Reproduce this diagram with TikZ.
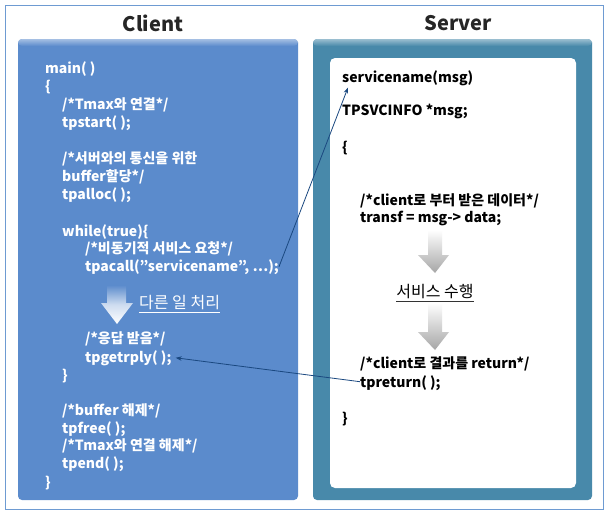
\documentclass[tikz,border=0pt]{standalone}
\usepackage{fontspec}
\setmainfont{Noto Sans CJK KR}
\usepackage{tikz}
\usetikzlibrary{arrows.meta}
\definecolor{clientblue}{RGB}{91,139,204}
\definecolor{serverteal}{RGB}{72,137,170}
\definecolor{frameblue}{RGB}{110,155,210}
\definecolor{linknavy}{RGB}{26,72,128}
\tikzset{
  ctext/.style={text=white, font=\bfseries\fontsize{14}{16}\selectfont, anchor=base west, inner sep=0pt},
  stext/.style={ctext, text=black},
  title/.style={font=\bfseries\fontsize{20}{22}\selectfont, text=black!85},
  steplabel/.style={inner sep=0pt, font=\fontsize{16}{18}\selectfont},
  link/.style={linknavy, line width=0.8pt, -{Stealth[length=6pt,width=4.5pt]}}
}
\begin{document}
\begin{tikzpicture}[x=1pt,y=-1pt]
  \useasboundingbox (0,0) rectangle (610,517);
  \fill[white] (0,0) rectangle (610,517);
  % frame and boxes
  \draw[frameblue, line width=1pt] (5,5) rectangle (603,509);
  \fill[clientblue, rounded corners=4pt] (18,39) rectangle (298,500);
  \shade[top color=clientblue!55!white, bottom color=clientblue, rounded corners=4pt] (18,39) rectangle (298,46);
  \fill[serverteal, rounded corners=4pt] (313,39) rectangle (592,500);
  \shade[top color=serverteal!55!white, bottom color=serverteal, rounded corners=4pt] (313,39) rectangle (592,46);
  \fill[white, rounded corners=5pt] (330,58) rectangle (576,488);

  \node[title] (client) at (153,23) {Client};
  \node[title] (server) at (458,23) {Server};

  % client code
  \node[ctext] (main) at (45,73) {main( )};
  \node[ctext] (mainopen) at (45,91) {\{};
  \node[ctext] (c1) at (62,109) {/*Tmax와 연결*/};
  \node[ctext] (tpstart) at (62,127) {tpstart( );};
  \node[ctext] (c2) at (62,163) {/*서버와의 통신을 위한};
  \node[ctext] (c3) at (62,181) {buffer할당*/};
  \node[ctext] (tpalloc) at (62,199) {tpalloc( );};
  \node[ctext] (while) at (62,236) {while(true)\{};
  \node[ctext] (c4) at (85,253) {/*비동기적 서비스 요청*/};
  \node[ctext] (tpacall) at (85,271) {tpacall(”servicename”, …);};
  \node[ctext] (c5) at (85,343) {/*응답 받음*/};
  \node[ctext] (tpgetrply) at (85,362) {tpgetrply( );};
  \node[ctext] (whileclose) at (62,380) {\}};
  \node[ctext] (c6) at (62,415) {/*buffer 해제*/};
  \node[ctext] (tpfree) at (62,433) {tpfree( );};
  \node[ctext] (c7) at (62,450) {/*Tmax와 연결 해제*/};
  \node[ctext] (tpend) at (62,468) {tpend( );};
  \node[ctext] (mainclose) at (45,487) {\}};

  % other work arrow
  \shade[top color=clientblue, bottom color=white, middle color=white!70!clientblue]
    (107,285) -- (126,285) -- (126,303) -- (133,303) -- (117,324) -- (101,303) -- (107,303) -- cycle;
  \node[steplabel, text=white, anchor=base west] (other) at (139,308) {다른 일 처리};
  \draw[white, line width=0.8pt] ([yshift=-4pt]other.base west) -- ([yshift=-4pt]other.base east);

  % server code
  \node[stext] (svcname) at (342,82) {servicename(msg)};
  \node[stext] (svcinfo) at (342,115) {TPSVCINFO *msg;};
  \node[stext] (svcopen) at (342,152) {\{};
  \node[stext] (s1) at (360,205) {/*client로 부터 받은 데이터*/};
  \node[stext] (transf) at (360,222) {transf = msg-> data;};
  \shade[top color=white, bottom color=gray!70]
    (428,230) -- (442,230) -- (442,255) -- (449,255) -- (435,273) -- (418,255) -- (428,255) -- cycle;
  \node[steplabel, anchor=base] (perform) at (435,297) {서비스 수행};
  \draw[black!80, line width=0.8pt] ([yshift=-4pt]perform.base west) -- ([yshift=-4pt]perform.base east);
  \shade[top color=white, bottom color=gray!70]
    (428,303) -- (442,303) -- (442,332) -- (449,332) -- (435,350) -- (418,332) -- (428,332) -- cycle;
  \node[stext] (s2) at (360,368) {/*client로 결과를 return*/};
  \node[stext] (tpreturn) at (360,387) {tpreturn( );};
  \node[stext] (svcclose) at (342,423) {\}};

  % calls
  \draw[link] (tpacall.east) -- ([xshift=6pt,yshift=-2pt]svcname.south west);
  \draw[link] ([yshift=1pt]tpreturn.west) -- ([xshift=4pt]tpgetrply.east);
\end{tikzpicture}
\end{document}
